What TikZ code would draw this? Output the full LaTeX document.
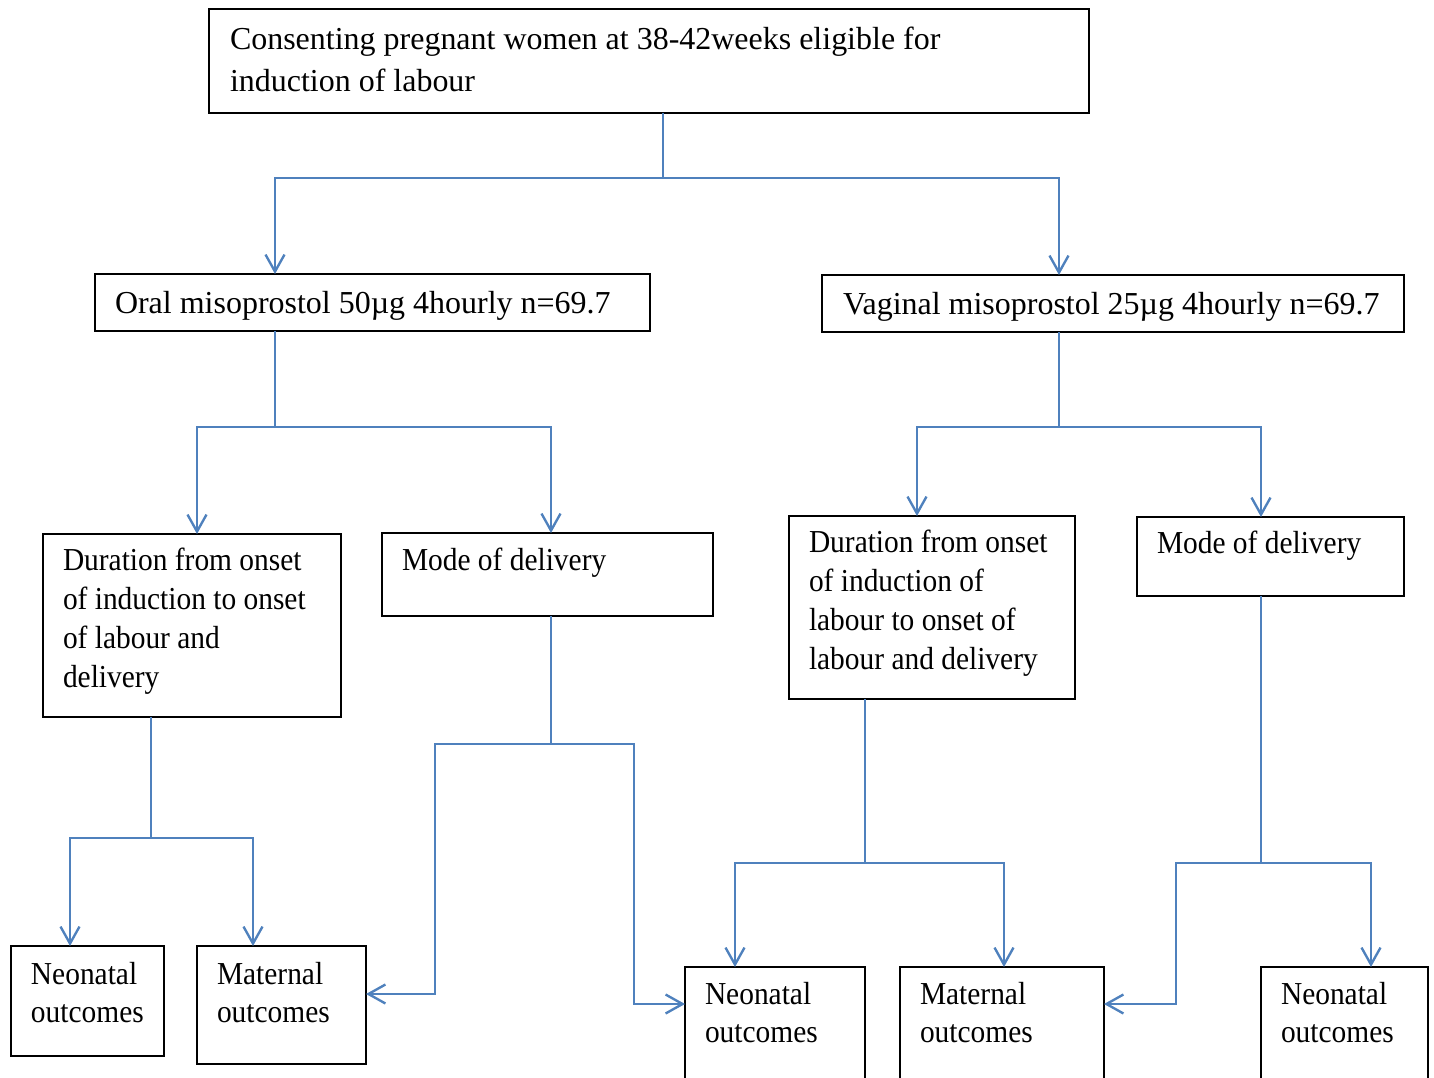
\documentclass[tikz,border=0pt]{standalone}
\usepackage{fontspec}
\setmainfont{Liberation Serif}
\usetikzlibrary{arrows.meta}
\definecolor{lineblue}{RGB}{79,129,189}
\newcommand{\mybox}[5]{\node[boxst,minimum width=#4*0.02cm-#2*0.02cm,minimum height=#5*0.02cm-#3*0.02cm] (#1) at ({(#2+#4)/2},{(#3+#5)/2}) {};}
\newcommand{\mytxt}[6]{\node[txtst] (#1) at (#2,#3) {\scalebox{#6}[1]{\parbox[t]{20cm}{\raggedright\fontsize{18.2}{#4}\selectfont #5}}};}
\begin{document}
\begin{tikzpicture}[x=0.02cm,y=-0.02cm,
  boxst/.style={draw=black,line width=0.9pt,rectangle,inner sep=0pt,outer sep=0pt,fill=white},
  txtst/.style={anchor=base west,inner sep=0pt,outer sep=0pt},
  conn/.style={draw=lineblue,line width=1.35pt},
  arr/.style={conn,-{Straight Barb[length=0.34cm,width=0.38cm]}}]
\useasboundingbox (0,0) rectangle (1434,1078);
% boxes
\mybox{top}{209}{9}{1089}{113}
\mybox{oral}{95}{274}{650}{331}
\mybox{vag}{822}{275}{1404}{332}
\mybox{durL}{43}{534}{341}{717}
\mybox{modeL}{382}{533}{713}{616}
\mybox{durR}{789}{516}{1075}{699}
\mybox{modeR}{1137}{517}{1404}{596}
\mybox{neoL}{11}{946}{164}{1056}
\mybox{matL}{197}{946}{366}{1064}
\mybox{neoM}{685}{967}{865}{1100}
\mybox{matM}{900}{967}{1104}{1100}
\mybox{neoR}{1261}{967}{1428}{1100}
% texts
\mytxt{tTop}{230}{50}{23.8pt}{Consenting pregnant women at 38-42weeks eligible for\\induction of labour}{1}
\mytxt{tOral}{115}{313}{22pt}{Oral misoprostol 50µg 4hourly n=69.7}{1}
\mytxt{tVag}{843}{314}{22pt}{Vaginal misoprostol 25µg 4hourly n=69.7}{1}
\mytxt{tDurL}{63}{570}{22.2pt}{Duration from onset\\of induction to onset\\of labour and\\delivery}{0.92}
\mytxt{tModeL}{402}{570}{22pt}{Mode of delivery}{0.92}
\mytxt{tDurR}{809}{552}{22.3pt}{Duration from onset\\of induction of\\labour to onset of\\labour and delivery}{0.92}
\mytxt{tModeR}{1157}{553}{22pt}{Mode of delivery}{0.92}
\mytxt{tNeoL}{31}{984}{22.1pt}{Neonatal\\outcomes}{0.92}
\mytxt{tMatL}{217}{984}{22.1pt}{Maternal\\outcomes}{0.92}
\mytxt{tNeoM}{705}{1004}{22.1pt}{Neonatal\\outcomes}{0.92}
\mytxt{tMatM}{920}{1004}{22.1pt}{Maternal\\outcomes}{0.92}
\mytxt{tNeoR}{1281}{1004}{22.1pt}{Neonatal\\outcomes}{0.92}
% junction coordinates
\coordinate (j1) at (663,178);
\coordinate (x1a) at (275,178);
\coordinate (x1b) at (1059,178);
\coordinate (j2) at (275,427);
\coordinate (x2a) at (197,427);
\coordinate (x2b) at (551,427);
\coordinate (j3) at (1059,427);
\coordinate (x3a) at (917,427);
\coordinate (x3b) at (1261,427);
\coordinate (j4) at (151,838);
\coordinate (x4a) at (70,838);
\coordinate (x4b) at (253,838);
\coordinate (j5) at (551,744);
\coordinate (k5) at (435,994);
\coordinate (m5) at (634,1004);
\coordinate (j6) at (865,863);
\coordinate (x6a) at (735,863);
\coordinate (x6b) at (1004,863);
\coordinate (j7) at (1261,863);
\coordinate (k7) at (1176,1004);
\coordinate (x7b) at (1371,863);
% connectors
\draw[conn] (top.south -| j1) -- (j1);
\draw[arr] (j1) -| (oral.north -| x1a);
\draw[arr] (j1) -| (vag.north -| x1b);
\draw[conn] (oral.south -| j2) -- (j2);
\draw[arr] (j2) -| (durL.north -| x2a);
\draw[arr] (j2) -| (modeL.north -| x2b);
\draw[conn] (vag.south -| j3) -- (j3);
\draw[arr] (j3) -| (durR.north -| x3a);
\draw[arr] (j3) -| (modeR.north -| x3b);
\draw[conn] (durL.south -| j4) -- (j4);
\draw[arr] (j4) -| (neoL.north -| x4a);
\draw[arr] (j4) -| (matL.north -| x4b);
\draw[conn] (modeL.south -| j5) -- (j5);
\draw[arr] (j5) -| (k5) -- (matL.east |- k5);
\draw[arr] (j5) -| (m5) -- (neoM.west |- m5);
\draw[conn] (durR.south -| j6) -- (j6);
\draw[arr] (j6) -| (neoM.north -| x6a);
\draw[arr] (j6) -| (matM.north -| x6b);
\draw[conn] (modeR.south -| j7) -- (j7);
\draw[arr] (j7) -| (k7) -- (matM.east |- k7);
\draw[arr] (j7) -| (neoR.north -| x7b);
\end{tikzpicture}
\end{document}
